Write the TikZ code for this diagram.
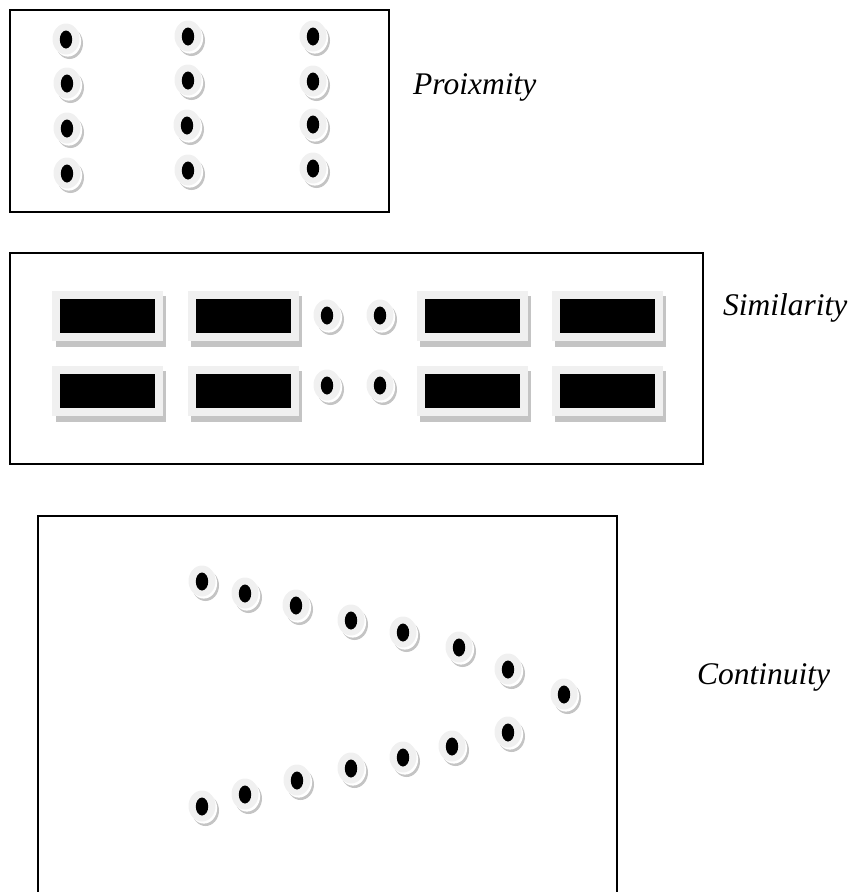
\documentclass[tikz,border=0pt]{standalone}
\usepackage{fontspec}
\setmainfont{Liberation Serif}
\definecolor{lightfill}{HTML}{F0F0F0}
\definecolor{shadefill}{HTML}{C4C4C4}
\tikzset{
  frame/.style={line width=1.6pt, black},
  label/.style={anchor=base west, inner sep=0pt, font=\fontsize{31.5}{36}\selectfont\itshape},
  dotpic/.pic={
    \fill[shadefill] (3.5,4.5) ellipse [x radius=13.5pt, y radius=15.5pt];
    \fill[white] (1.8,2.3) ellipse [x radius=13.3pt, y radius=15.3pt];
    \fill[lightfill] (0,0) ellipse [x radius=13.5pt, y radius=15.5pt];
    \fill[black] (0,0.5) ellipse [x radius=6.2pt, y radius=9pt];
  },
  barpic/.pic={
    \fill[shadefill] (-52,-20) rectangle (58.5,30.5);
    \fill[lightfill] (-55.5,-25) rectangle (55.5,25);
    \fill[black] (-47.5,-17) rectangle (47.5,17);
  }
}
\begin{document}
\begin{tikzpicture}[x=1pt,y=-1pt]
\useasboundingbox (0,0) rectangle (857,892);
% Proximity
\draw[frame] (10,10) rectangle (389,212);
\foreach \p in {(66,39),(67,83),(67,128),(67,173),
                (188,36),(188,80),(187,125),(188,170),
                (313,36),(313,81),(313,124),(313,168)}
  \pic at \p {dotpic};
\node[label] (prox) at (413,94) {Proixmity};
% Similarity
\draw[frame] (10,253) rectangle (703,464);
\foreach \cx in {107.5,243,472,607}
  \foreach \cy in {316,391}
    \pic at (\cx,\cy) {barpic};
\foreach \p in {(327,315),(380,315),(327,385),(380,385)}
  \pic at \p {dotpic};
\node[label] (sim) at (723,315) {Similarity};
% Continuity
\draw[frame] (38,892) -- (38,516) -- (617,516) -- (617,892);
\foreach \p in {(202,581),(245,593),(296,605),(351,620),(403,632),(459,647),(508,669),(564,694),
                (202,806),(245,794),(297,780),(351,768),(403,757),(452,746),(508,732)}
  \pic at \p {dotpic};
\node[label] (cont) at (697,684) {Continuity};
\end{tikzpicture}
\end{document}
